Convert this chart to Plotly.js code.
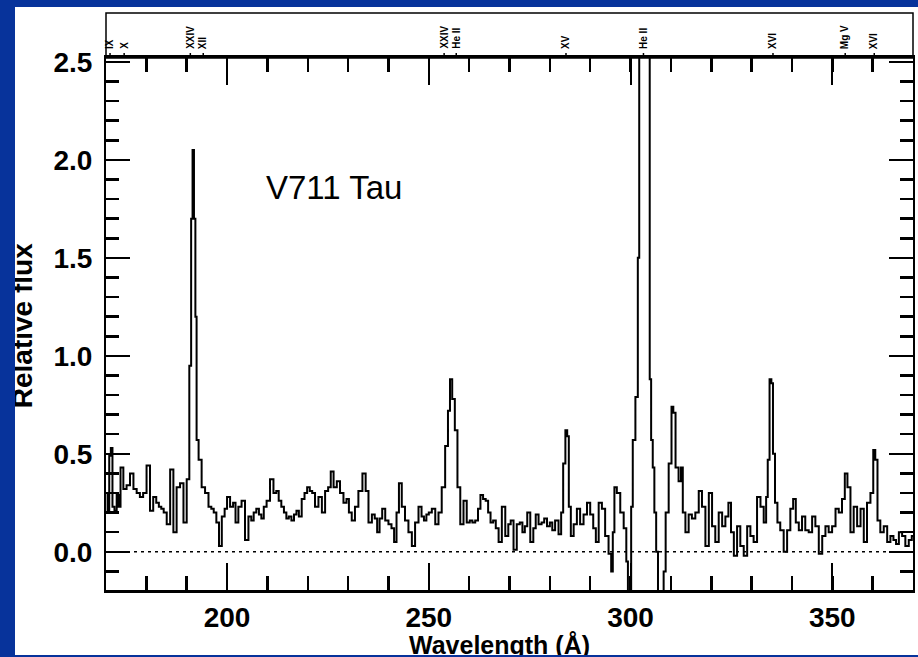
<!DOCTYPE html>
<html>
<head>
<meta charset="utf-8">
<script src="https://cdn.plot.ly/plotly-3.0.1.min.js"></script>
<style>
  html, body { margin: 0; padding: 0; width: 918px; height: 657px; overflow: hidden; background: #07339b; }
  #chart { position: absolute; left: 15px; top: 7px; width: 903px; height: 648px; background: #ffffff; overflow: hidden; }
</style>
</head>
<body>
<div id="chart"></div>
<script>
// Wavelength (Å)
const wavelength = [
170.2,170.6,171.0,171.4,171.8,172.4,172.9,173.3,173.9,174.7,175.5,176.4,177.2,178.0,178.8,179.6,
180.5,181.3,182.1,182.8,183.4,184.0,184.6,185.5,186.3,187.1,187.9,188.8,189.6,190.4,190.9,191.3,
191.6,192.0,192.3,192.6,193.3,194.1,195.0,195.8,196.4,197.0,197.7,198.3,199.1,199.7,200.3,201.2,
201.8,202.4,203.2,204.0,204.9,205.7,206.3,206.9,207.6,208.2,208.8,209.4,210.2,211.1,211.9,212.5,
213.1,213.8,214.4,215.0,215.6,216.3,216.9,217.5,218.1,218.9,219.5,220.2,220.8,221.4,222.2,223.1,
223.9,224.7,225.4,226.0,226.8,227.6,228.4,229.3,229.9,230.5,231.3,232.1,233.0,234.1,234.6,235.5,
236.3,236.9,237.5,238.1,238.8,239.6,240.4,241.1,241.7,242.3,242.9,243.7,244.5,245.4,246.2,247.0,
247.9,248.5,249.1,249.7,250.3,251.2,252.0,252.8,253.6,254.5,255.0,255.5,256.1,256.8,257.4,258.2,
259.0,259.8,260.5,261.1,261.9,262.5,263.1,263.8,264.4,265.0,265.6,266.3,266.9,267.7,268.5,269.4,
270.0,270.6,271.4,272.2,272.9,273.5,274.1,274.7,275.6,276.2,276.8,277.6,278.3,278.9,279.7,280.3,
280.9,281.7,282.6,283.0,283.6,284.1,284.5,284.9,285.5,286.3,287.1,287.9,288.8,289.6,290.4,291.1,
291.7,292.5,293.3,294.1,295.0,295.4,295.8,296.2,297.0,297.9,298.7,299.2,299.5,300.0,300.3,300.8,
301.6,302.0,302.3,304.6,304.9,305.3,305.7,306.1,306.6,307.0,308.0,308.4,309.0,309.9,310.4,310.8,
311.5,312.3,312.7,313.2,314.0,314.8,315.6,316.5,317.3,318.1,319.0,319.8,320.6,321.4,322.3,323.1,
323.9,324.6,325.2,326.0,326.8,327.6,328.5,329.3,330.1,330.9,331.8,332.6,333.4,333.8,334.2,334.7,
335.1,335.5,336.1,336.7,337.5,338.4,339.2,340.0,340.6,341.3,342.1,342.9,343.7,344.6,345.4,346.2,
347.1,347.9,348.7,349.5,350.4,351.2,352.0,352.8,353.4,354.1,354.9,355.7,356.6,357.4,358.2,359.0,
359.9,360.4,360.9,361.5,362.3,363.2,364.0,364.8,365.5,366.1,366.9,367.7,368.5,369.4,370.0
];
// Relative flux
const flux = [
0.30,0.21,0.49,0.53,0.23,0.21,0.29,0.23,0.43,0.32,0.34,0.40,0.32,0.30,0.28,0.30,
0.44,0.21,0.28,0.25,0.23,0.22,0.20,0.14,0.42,0.10,0.33,0.35,0.15,0.37,0.95,1.70,
2.05,1.70,1.20,0.57,0.47,0.33,0.30,0.23,0.22,0.20,0.15,0.03,0.18,0.22,0.28,0.23,
0.25,0.15,0.23,0.26,0.06,0.18,0.16,0.20,0.22,0.19,0.17,0.23,0.26,0.37,0.30,0.31,
0.26,0.23,0.20,0.17,0.18,0.16,0.19,0.21,0.18,0.27,0.30,0.33,0.31,0.30,0.23,0.28,
0.20,0.31,0.33,0.41,0.33,0.36,0.30,0.25,0.27,0.20,0.16,0.23,0.31,0.40,0.31,0.15,
0.19,0.17,0.10,0.17,0.22,0.16,0.14,0.12,0.05,0.20,0.35,0.23,0.16,0.10,0.03,0.15,
0.23,0.18,0.16,0.19,0.20,0.22,0.14,0.20,0.33,0.54,0.72,0.88,0.78,0.62,0.33,0.14,
0.26,0.15,0.16,0.15,0.16,0.22,0.29,0.27,0.26,0.20,0.15,0.16,0.12,0.05,0.23,0.08,
0.14,0.16,0.01,0.14,0.15,0.10,0.13,0.20,0.05,0.12,0.19,0.14,0.15,0.17,0.13,0.15,
0.11,0.16,0.09,0.20,0.45,0.62,0.59,0.23,0.08,0.14,0.22,0.14,0.19,0.25,0.19,0.12,
0.05,0.25,0.22,0.08,-0.01,-0.10,0.10,0.33,0.30,0.20,0.12,-0.05,-0.30,-0.30,0.23,0.57,
0.79,1.50,3.00,3.00,0.88,0.57,0.43,0.20,0.00,-0.30,-0.30,-0.10,0.20,0.45,0.74,0.71,
0.43,0.36,0.43,0.20,0.10,0.19,0.17,0.20,0.31,0.23,0.03,0.30,0.13,0.05,0.20,0.13,
0.18,0.25,0.10,-0.02,0.13,0.03,-0.02,0.13,0.08,0.05,0.28,0.23,0.15,0.28,0.47,0.88,
0.86,0.50,0.25,0.15,0.11,0.00,0.11,0.22,0.27,0.15,0.11,0.18,0.11,0.10,0.18,0.13,
-0.01,0.08,0.13,0.10,0.13,0.22,0.20,0.27,0.40,0.33,0.10,0.23,0.13,0.22,0.05,0.25,
0.30,0.52,0.47,0.16,0.10,0.13,0.05,0.08,0.06,0.04,0.10,0.08,0.03,0.06,0.08
];
// Axis ticks
const xTickVals = [200, 250, 300, 350];
const xTickText = ['200', '250', '300', '350'];
const yTickVals = [0.0, 0.5, 1.0, 1.5, 2.0, 2.5];
const yTickText = ['0.0', '0.5', '1.0', '1.5', '2.0', '2.5'];
// Line identifications along the top
const lineIds = ['IX', 'X', 'XXIV', 'XII', 'XXIV', 'He II', 'XV', 'He II', 'XVI', 'Mg V', 'XVI'];
const linePos = [171.0, 174.5, 190.9, 194.1, 253.8, 256.8, 284.0, 303.2, 335.3, 353.2, 360.4];
const starName = 'V711 Tau';
const xTitle = 'Wavelength (Å)';
const yTitle = 'Relative flux';

const FAM = 'Liberation Sans, Arial, sans-serif';
const tickFont = { family: FAM, size: 28, color: '#000', weight: 'bold' };

const shapes = [
  // zero reference line
  { type: 'line', xref: 'paper', yref: 'y', x0: 0, x1: 1, y0: 0, y1: 0,
    line: { color: '#000', width: 1.5, dash: '3px,4px' }, layer: 'above' },
  // box around the line-id strip
  { type: 'rect', xref: 'paper', yref: 'paper', x0: 0, x1: 1, y0: 1, y1: 1.0846,
    line: { color: '#000', width: 1.5 }, fillcolor: 'rgba(0,0,0,0)' }
];
const annotations = [
  { x: 226.5, y: 1.857, xref: 'x', yref: 'y', text: starName, showarrow: false,
    font: { family: FAM, size: 33, color: '#000' } },
  // axis titles (partly hidden by the page border, as in the original)
  { x: 0.488, y: -0.103, xref: 'paper', yref: 'paper', text: xTitle, showarrow: false,
    xanchor: 'center', yanchor: 'middle',
    font: { family: FAM, size: 25, color: '#000', weight: 'bold' } },
  { x: -0.104, y: 0.496, xref: 'paper', yref: 'paper', text: yTitle, showarrow: false,
    textangle: -90, xanchor: 'center', yanchor: 'middle',
    font: { family: FAM, size: 28, color: '#000', weight: 'bold' } }
];
lineIds.forEach((id, i) => {
  shapes.push({ type: 'line', xref: 'x', yref: 'paper', x0: linePos[i], x1: linePos[i],
    y0: 1, y1: 1.0094, line: { color: '#000', width: 1.5 } });
  annotations.push({ x: linePos[i], y: 1.0132, xref: 'x', yref: 'paper', text: id,
    showarrow: false, textangle: -90, xanchor: 'center', yanchor: 'bottom',
    font: { family: FAM, size: 10, color: '#000', weight: 'bold' } });
});

const trace = {
  x: wavelength, y: flux, type: 'scatter', mode: 'lines',
  line: { color: '#000', width: 2, shape: 'hvh' }, hoverinfo: 'skip'
};

const layout = {
  width: 903, height: 648,
  margin: { l: 91, r: 5, t: 51, b: 65 },
  paper_bgcolor: '#ffffff', plot_bgcolor: '#ffffff',
  showlegend: false,
  xaxis: {
    range: [170, 370], tickmode: 'array', tickvals: xTickVals, ticktext: xTickText,
    ticks: 'inside', ticklen: 27, tickwidth: 2, tickcolor: '#000',
    minor: { tickmode: 'linear', tick0: 170, dtick: 10, ticks: 'inside', ticklen: 14, tickwidth: 2.5, tickcolor: '#000' },
    showline: true, linewidth: 3, linecolor: '#000', mirror: 'ticks',
    showgrid: false, zeroline: false, tickfont: tickFont, ticklabelstandoff: 0
  },
  yaxis: {
    range: [-0.195, 2.52], tickmode: 'array', tickvals: yTickVals, ticktext: yTickText,
    ticks: 'inside', ticklen: 24, tickwidth: 2, tickcolor: '#000',
    minor: { tickmode: 'linear', tick0: 0, dtick: 0.1, ticks: 'inside', ticklen: 13, tickwidth: 2.5, tickcolor: '#000' },
    showline: true, linewidth: 2, linecolor: '#000', mirror: 'ticks',
    showgrid: false, zeroline: false, tickfont: tickFont, ticklabelstandoff: 6
  },
  shapes: shapes,
  annotations: annotations
};

Plotly.newPlot('chart', [trace], layout, { displayModeBar: false, staticPlot: true });
</script>
</body>
</html>
